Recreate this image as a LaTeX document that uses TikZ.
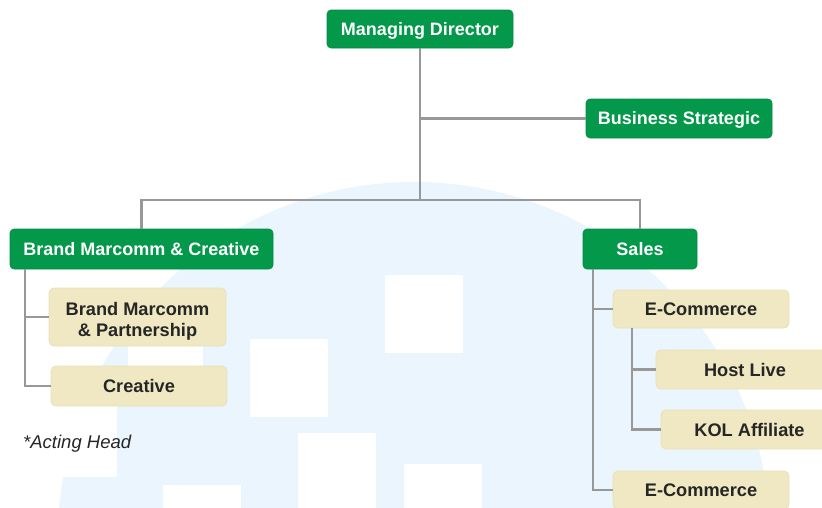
\documentclass[tikz,border=0pt]{standalone}
\usepackage{fontspec}
\setmainfont{Liberation Sans}
\definecolor{brandgreen}{RGB}{3,152,74}
\definecolor{sand}{RGB}{239,232,194}
\definecolor{sandedge}{RGB}{233,225,180}
\definecolor{skyblue}{RGB}{234,245,254}
\definecolor{wire}{RGB}{152,152,152}
\definecolor{ink}{RGB}{38,38,38}
\tikzset{
  headbox/.style={draw=brandgreen!92!black, line width=0.6pt, fill=brandgreen, rounded corners=4pt,
    text=white, font=\fontsize{18}{21}\selectfont\bfseries, inner sep=0pt, align=center,
    text height=12.9pt, text depth=0pt},
  unitbox/.style={draw=sandedge, line width=0.8pt, fill=sand, rounded corners=5pt,
    text=ink, font=\fontsize{18.2}{20.5}\selectfont\bfseries, inner sep=0pt, align=center,
    text height=13pt, text depth=0pt},
  conn/.style={draw=wire, line width=2.2pt},
  tile/.style={fill=white, draw=none}
}
\begin{document}
\begin{tikzpicture}[x=1pt,y=-1pt]
\useasboundingbox (0,0) rectangle (822,507);
\begin{scope}
  \clip (0,0) rectangle (822,507);
  \fill[white] (0,0) rectangle (822,507);
  % backdrop: pale dome with white window tiles
  \fill[skyblue] (414,538) circle[radius=356pt];
  \fill[tile] (385,275) rectangle (463,353);
  \fill[tile] (250,339) rectangle (328,417);
  \fill[tile] (298,433) rectangle (376,511);
  \fill[tile] (163,485) rectangle (241,563);
  \fill[tile] (404,464) rectangle (482,542);
  \fill[tile] (128,289) rectangle (203,367);
  \fill[tile] (39,399) rectangle (117,477);

  % nodes
  \node[headbox, minimum width=186pt, minimum height=38pt] (md) at (420,29) {Managing Director};
  \node[headbox, minimum width=186pt, minimum height=39pt] (bs) at (679,118.5) {Business Strategic};
  \node[headbox, minimum width=263pt, minimum height=40pt] (bmc) at (141.5,249) {Brand Marcomm \& Creative};
  \node[headbox, minimum width=114pt, minimum height=40pt] (sales) at (640,249) {Sales};

  \node[unitbox, minimum width=177pt, minimum height=58pt, text height=38pt] (bmp) at (137.5,317) {Brand Marcomm\\\& Partnership};
  \node[unitbox, minimum width=176pt, minimum height=40pt] (cre) at (139,386) {Creative};

  \node[unitbox, minimum width=176pt, minimum height=38pt] (ec1) at (701,309) {E-Commerce};
  \node[unitbox, minimum width=178pt, minimum height=39pt] (host) at (745,369.5) {Host Live};
  \node[unitbox, minimum width=177pt, minimum height=39pt] (kol) at (749.5,429.5) {KOL Affiliate};
  \node[unitbox, minimum width=176pt, minimum height=38pt] (ec2) at (701,490) {E-Commerce};

  \node[anchor=west, text=ink, font=\fontsize{18.5}{22}\selectfont\itshape, inner sep=0pt,
        text height=13.3pt, text depth=0pt] (note) at (23,442) {*Acting Head};

  % connectors
  \coordinate (split) at (420,200);
  \draw[conn] (md.south) |- (bs.west);
  \draw[conn] (md.south) -- (split);
  \draw[conn] (bmc.north) |- (split) -| (sales.north);
  \draw[conn] ([xshift=15pt]bmc.south west) |- (bmp.west);
  \draw[conn] ([xshift=15pt]bmc.south west) |- (cre.west);
  \draw[conn] ([xshift=10pt]sales.south west) |- (ec1.west);
  \draw[conn] ([xshift=10pt]sales.south west) |- (ec2.west);
  \draw[conn] ([xshift=19pt]ec1.south west) |- (host.west);
  \draw[conn] ([xshift=19pt]ec1.south west) |- (kol.west);
\end{scope}
\end{tikzpicture}
\end{document}
